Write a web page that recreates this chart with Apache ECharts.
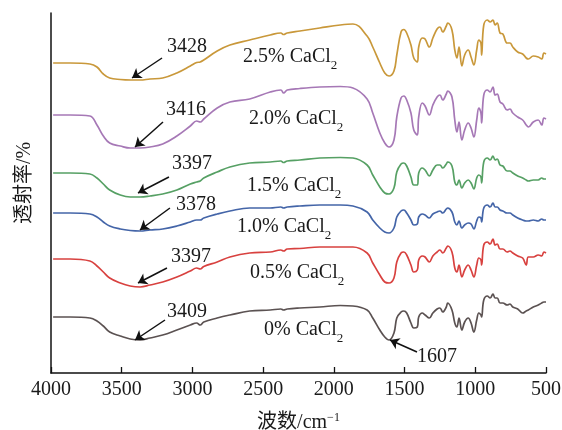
<!DOCTYPE html>
<html>
<head>
<meta charset="utf-8">
<script src="https://cdn.jsdelivr.net/npm/echarts@6/dist/echarts.min.js"></script>
<style>
  html, body { margin: 0; padding: 0; background: #fff; }
  #chart { width: 562px; height: 430px; }
</style>
</head>
<body>
<div id="chart"></div>
<script>
// 波数 (cm-1)
const wavenumber = [3985, 3865, 3725, 3675, 3630, 3585, 3510, 3440, 3370, 3300,
  3210, 3110, 3015, 2970, 2945, 2920, 2825, 2735, 2595, 2450,
  2375, 2355, 2330, 2240, 2100, 1955, 1865, 1765, 1725, 1675,
  1640, 1610, 1575, 1555, 1525, 1505, 1485, 1455, 1435, 1410,
  1400, 1375, 1355, 1325, 1300, 1270, 1250, 1230, 1205, 1195,
  1165, 1145, 1130, 1115, 1095, 1075, 1050, 1030, 1010, 990,
  975, 960, 955, 940, 915, 895, 875, 860, 845, 825,
  805, 775, 755, 735, 700, 665, 640, 625, 590, 555,
  530, 515, 500];

// 透射率 (堆叠偏移后)
const t25 = [310, 310, 309, 306, 299, 295, 293.5, 293, 293, 294,
  295, 300, 307, 310.5, 311, 313, 322, 328, 333, 338,
  340, 338.5, 340, 342, 345, 348, 349, 337, 326, 310,
  300, 297, 302, 318, 341, 343.5, 340, 328, 315, 311,
  326, 335, 334, 326, 335, 344, 346, 341, 347, 350,
  343, 323, 315, 326, 307, 318, 323, 316, 308, 323,
  333, 330, 318, 348, 353, 351, 353, 348, 350, 340,
  339, 330, 330, 326, 321, 319, 315, 314, 317, 316,
  314, 320, 319];
const t20 = [258, 258, 257, 248, 237, 230, 227, 225, 225, 226,
  229, 237, 247, 252, 251, 254, 265, 271, 274, 281,
  283, 280, 283, 284.5, 286, 286.5, 285, 274, 260, 240,
  230, 226, 233, 256, 275, 277, 273, 260, 243, 238,
  256, 270, 267, 258, 268, 276, 278, 273, 279, 282,
  276, 253, 241, 251, 233, 243, 250, 245, 236, 253,
  265, 260, 250, 278, 283, 281, 286, 278, 279, 271,
  269, 263, 264, 260, 256, 253, 248, 246, 251, 253,
  248, 255, 254];
const t15 = [200, 200, 199, 195, 189, 183, 178, 176, 176, 177,
  179, 183, 189, 191, 192, 195, 201, 206, 210, 211,
  212, 210.5, 212, 213, 215, 215.5, 215, 208, 198, 186,
  180, 179, 185, 201, 209, 210, 207, 196, 188, 188,
  200, 205, 203, 197, 203, 208, 208, 205, 209, 211,
  207, 191, 188, 193, 185, 190, 193, 190, 184, 195,
  198, 196, 190, 211, 215, 213, 217, 213, 214, 208,
  207, 202, 202, 200, 197, 195, 193, 192, 193, 193,
  195, 194, 194];
const t10 = [160, 160, 159, 156, 151, 147, 144, 142.5, 142, 143,
  144, 147, 151, 153, 153, 155, 159, 162, 165, 165,
  166, 165, 166, 167, 168, 168, 167, 161, 153, 145,
  141, 140, 145, 156, 162, 163, 160, 153, 148, 149,
  156, 159, 158, 155, 159, 161, 162, 160, 164, 165,
  161, 151, 148, 152, 145, 148, 150, 149, 144, 152,
  156, 155, 151, 165, 168, 166, 170, 166, 166, 163,
  162, 160, 160, 158, 155, 153, 152, 152, 153, 152,
  154, 153, 153];
const t05 = [114, 114, 112, 107, 101, 95, 90, 87, 86, 88,
  91, 96, 102, 105, 104, 106.5, 111, 116, 120, 121,
  123, 122, 124, 124.5, 126, 126, 126, 120, 110, 98,
  91, 90, 95, 111, 120, 121, 118, 108, 101, 103,
  113, 117, 116, 111, 117, 121, 123, 120, 125, 127,
  121, 105, 101, 108, 96, 103, 108, 103, 96, 108,
  115, 113, 108, 128, 131, 129, 134, 128, 129, 124,
  124, 121, 122, 120, 117, 115, 108, 116, 116, 118,
  117, 121, 120];
const t00 = [56, 56, 55, 52, 47, 41, 37, 34, 33, 35,
  38, 43, 48, 50, 48, 51, 55, 58, 62, 63,
  64, 63, 64, 65, 66, 67.5, 67, 63, 55, 43,
  36, 33, 40, 55, 61, 62, 60, 50, 45, 46,
  56, 60, 58, 55, 60, 64, 65, 61, 66, 70,
  63, 50, 46, 55, 43, 51, 55, 50, 41, 53,
  60, 58, 56, 73, 77, 75, 79, 75, 75, 70,
  70, 68, 69, 66, 64, 60, 62, 63, 66, 68,
  70, 71, 71];

const contents = ['2.5%', '2.0%', '1.5%', '1.0%', '0.5%', '0%'];
const spectra = [t25, t20, t15, t10, t05, t00];
const peakText = ['3428', '3416', '3397', '3378', '3397', '3409'];

// 标注位置 (数据坐标)
const arrowTip = [[3427, 295], [3406, 226], [3385, 180], [3371, 143], [3385, 90], [3406, 33]];
const arrowTail = [[3215, 315], [3208, 251], [3166, 196], [3159, 165], [3180, 105], [3194, 53]];
const peakTextPos = [[3038, 326], [3045, 263], [3003, 209], [2975, 168], [3010, 116], [3038, 61]];
const namePos = [[2642, 315], [2600, 253], [2614, 186], [2685, 145], [2593, 99], [2494, 42]];
const colors = ['#c9983a', '#a678b6', '#56a064', '#4465a8', '#d8413f', '#5b5252'];

const serif = '"Times New Roman", "Liberation Serif", "Noto Sans CJK SC", serif';

const chart = echarts.init(document.getElementById('chart'));

const series = spectra.map((arr, k) => ({
  name: contents[k] + ' CaCl2',
  type: 'line',
  data: wavenumber.map((w, i) => [w, arr[i]]),
  smooth: 0.4,
  showSymbol: false,
  silent: true,
  lineStyle: { color: colors[k], width: 1.7 },
  markLine: {
    silent: true,
    symbol: ['none', 'arrow'],
    symbolSize: 9,
    label: { show: false },
    lineStyle: { color: '#111', width: 1.5, type: 'solid' },
    data: [[{ coord: arrowTail[k] }, { coord: arrowTip[k] }]]
  },
  markPoint: {
    silent: true,
    symbol: 'circle',
    symbolSize: 0,
    data: [
      {
        coord: peakTextPos[k],
        label: { show: true, position: 'inside', formatter: peakText[k],
          fontSize: 20, fontFamily: serif, color: '#1a1a1a' }
      },
      {
        coord: namePos[k],
        label: {
          show: true, position: 'right', distance: 0,
          formatter: '{a|' + contents[k] + ' CaCl}{b|2}',
          rich: {
            a: { fontSize: 20, fontFamily: serif, color: '#1a1a1a', lineHeight: 22, verticalAlign: 'top' },
            b: { fontSize: 13, fontFamily: serif, color: '#1a1a1a', lineHeight: 13, padding: [12, 0, 0, 0], verticalAlign: 'top' }
          }
        }
      }
    ]
  }
}));

// 1607 峰标注
series[5].markLine.data.push([{ coord: [1412, 21] }, { coord: [1603, 33] }]);
series[5].markPoint.data.push({
  coord: [1271, 16],
  label: { show: true, position: 'inside', formatter: '1607',
    fontSize: 20, fontFamily: serif, color: '#1a1a1a' }
});

const option = {
  animation: false,
  grid: { left: 51, right: 16, top: 13, bottom: 57, outerBoundsMode: 'none' },
  xAxis: {
    type: 'value',
    inverse: true,
    min: 500,
    max: 4000,
    interval: 500,
    name: '{a|波数/cm}{b|−1}',
    nameLocation: 'middle',
    nameGap: 36,
    nameTextStyle: {
      rich: {
        a: { fontSize: 20, fontFamily: serif, color: '#1a1a1a', lineHeight: 24, verticalAlign: 'top', padding: [4, 0, 0, 0] },
        b: { fontSize: 12, fontFamily: serif, color: '#1a1a1a', lineHeight: 12, verticalAlign: 'top', padding: [3, 0, 0, 0] }
      }
    },
    axisLine: { lineStyle: { color: '#111', width: 1.5 } },
    axisTick: { inside: true, length: 6, lineStyle: { color: '#111', width: 1.3 } },
    axisLabel: { fontSize: 20, fontFamily: serif, color: '#1a1a1a', margin: 7,
      formatter: v => String(v) },
    splitLine: { show: false }
  },
  yAxis: {
    type: 'value',
    min: 0,
    max: 360,
    name: '透射率/%',
    nameLocation: 'middle',
    nameRotate: 90,
    nameGap: 16,
    nameTextStyle: { fontSize: 20, fontFamily: serif, color: '#1a1a1a', padding: [0, 0, 0, 20] },
    axisLine: { show: true, lineStyle: { color: '#111', width: 1.5 } },
    axisTick: { show: false },
    axisLabel: { show: false },
    splitLine: { show: false }
  },
  series: series
};

chart.setOption(option);
</script>
</body>
</html>
